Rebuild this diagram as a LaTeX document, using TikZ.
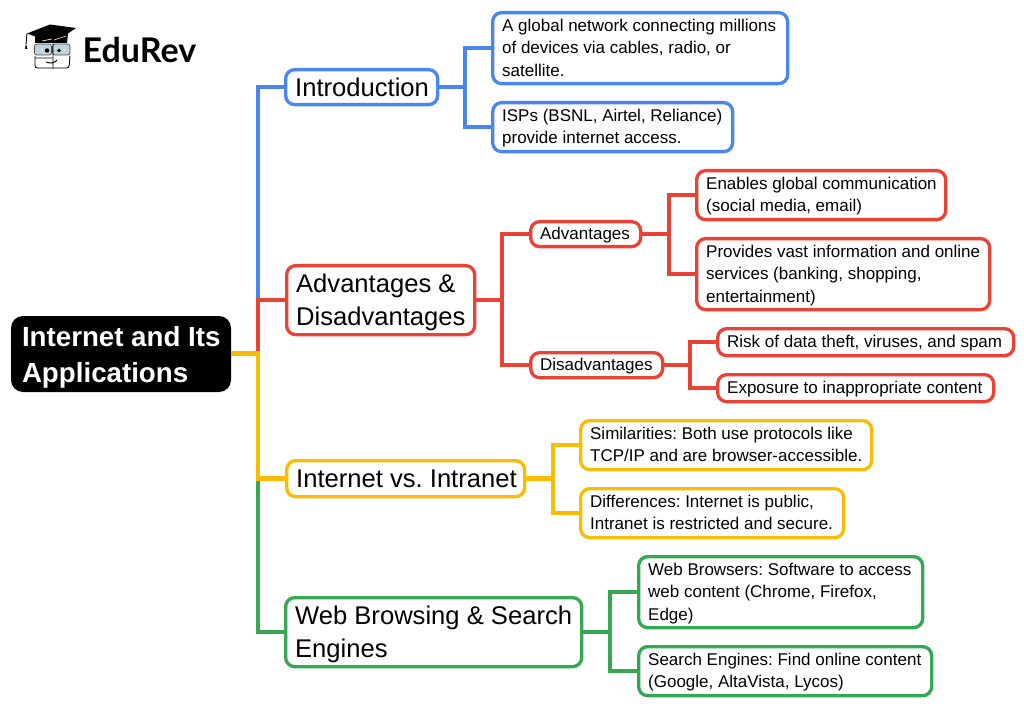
\documentclass[tikz,border=0pt]{standalone}
\usepackage{fontspec}
\setmainfont{Liberation Sans}
\newfontfamily\logofont{Lato}
\frenchspacing
\definecolor{cblue}{HTML}{4A86F0}
\definecolor{cred}{HTML}{EA4335}
\definecolor{cyel}{HTML}{FBBC04}
\definecolor{cgrn}{HTML}{34A853}
\definecolor{glass}{HTML}{BFD3DC}
\tikzset{
  box/.style={fill=white,line width=3.3pt,rounded corners=9pt,inner sep=0pt,anchor=north west,text=black},
  big/.style={box,font=\fontsize{25.6}{33}\selectfont\def\txtdrop{2.5pt}},
  small/.style={box,font=\fontsize{17}{22.3}\selectfont\def\txtdrop{1.2pt}},
  link/.style={line width=4.4pt},
}
% \bx{style}{name}{x0}{y0}{x1}{y1}{text}
\newcommand{\bx}[7]{\pgfmathsetlengthmacro{\bw}{#5-#3-3}\pgfmathsetlengthmacro{\bh}{#6-#4-3}%
  \node[#1,minimum height=\bh] (#2) at (#3,#4) {\makebox[\bw][l]{\hspace{9.5pt}\raisebox{-\txtdrop}[\height][\depth]{\begin{tabular}{@{}l@{}}#7\end{tabular}}}};}
\begin{document}
\begin{tikzpicture}[x=1pt,y=-1pt]
\useasboundingbox (0,0) rectangle (1024,708);
\fill[white] (0,0) rectangle (1024,708);
% logo
\fill (27,33.5) -- (50,24.5) -- (76,28) -- (68,33.5) -- (67,43) -- (35,43) -- (35,36.5) -- cycle;
\draw[line width=0.9pt] (27,33.5) -- (26,44);
\fill (26,43.5) -- (27.5,49) -- (25,49) -- cycle;
\draw[white,line width=0.6pt] (54,40) -- (66,36) (42,41) -- (52,39);
\draw[black!70,fill=glass,line width=0.7pt,rounded corners=2.5pt] (34.5,44) rectangle (51.5,55);
\draw[black!70,fill=glass,line width=0.7pt,rounded corners=2.5pt] (52.5,44) rectangle (70,55);
\fill (47,50.5) circle (2.2pt) (59,50.5) circle (1.8pt);
\fill[white] (42,50) circle (1.2pt) (64,50) circle (1.2pt);
\draw[black,line width=0.9pt,rounded corners=2.5pt] (35,56) -- (35,68) -- (69,68) -- (70,56);
\draw[black,line width=0.9pt] (35,58) -- (52,58) (53,42) -- (53,69) (46,62) .. controls (50,64) and (55,63) .. (57,60);
\node[font=\logofont\bfseries\fontsize{34}{34}\selectfont,anchor=base west,inner sep=0pt] (logo) at (82.5,62.5) {EduRev};
% junctions
\coordinate (jroot) at (258,353.5);
\coordinate (jadv) at (258,300);
\coordinate (jint) at (258,479);
\coordinate (j1) at (465,87);
\coordinate (j2) at (502,300);
\coordinate (j3) at (669,234);
\coordinate (j4) at (690,365);
\coordinate (j5) at (553,478.5);
\coordinate (j6) at (610,632);
% boxes
\node[fill=black,rounded corners=12pt,minimum height=76pt,inner sep=0pt,outer sep=0pt,anchor=north west,text=white,font=\bfseries\fontsize{27.7}{36.5}\selectfont] (root) at (11,316) {\makebox[220pt][l]{\hspace{11pt}\raisebox{-3pt}[\height][\depth]{\begin{tabular}{@{}l@{}}Internet and Its\\Applications\end{tabular}}}};
\bx{big,draw=cblue}{intro}{284}{68}{439}{106}{Introduction}
\bx{small,draw=cblue}{i1}{491}{11}{789}{85}{A global network connecting millions\\of devices via cables, radio, or\\satellite.}
\bx{small,draw=cblue}{i2}{491}{101}{734}{153}{ISPs (BSNL, Airtel, Reliance)\\provide internet access.}
\bx{big,draw=cred}{ad}{285}{264}{476}{336}{Advantages \&\\Disadvantages}
\bx{small,draw=cred}{adv}{529}{220}{642}{248}{Advantages}
\bx{small,draw=cred}{dis}{529}{351}{664}{379}{Disadvantages}
\bx{small,draw=cred}{a1}{695}{169}{947}{221}{Enables global communication\\(social media, email)}
\bx{small,draw=cred}{a2}{695}{237}{991}{311}{Provides vast information and online\\services (banking, shopping,\\entertainment)}
\bx{small,draw=cred}{d1}{716}{327}{1015}{357}{Risk of data theft, viruses, and spam}
\bx{small,draw=cred}{d2}{716}{373}{995}{403}{Exposure to inappropriate content}
\bx{big,draw=cyel}{vs}{285}{459}{526}{498}{Internet vs. Intranet}
\bx{small,draw=cyel}{v1}{579}{419}{873}{471}{Similarities: Both use protocols like\\TCP/IP and are browser-accessible.}
\bx{small,draw=cyel}{v2}{579}{487}{845}{539}{Differences: Internet is public,\\Intranet is restricted and secure.}
\bx{big,draw=cgrn}{web}{284}{596}{583}{668}{Web Browsing \& Search\\Engines}
\bx{small,draw=cgrn}{w1}{637}{555}{924}{629}{Web Browsers: Software to access\\web content (Chrome, Firefox,\\Edge)}
\bx{small,draw=cgrn}{w2}{637}{645}{933}{697}{Search Engines: Find online content\\(Google, AltaVista, Lycos)}
% connectors
\draw[link,cblue] (jadv) |- (intro.west);
\draw[link,cblue] (intro.east) -- (intro.east -| j1);
\draw[link,cblue] (j1) |- (i1.west);
\draw[link,cblue] (j1) |- (i2.west);
\draw[link,cgrn] (jint) |- (web.west);
\draw[link,cred] (jroot) -- (jadv) -- (ad.west |- jadv);
\draw[link,cred] (ad.east |- j2) -- (j2);
\draw[link,cred] (j2) |- (adv.west);
\draw[link,cred] (j2) |- (dis.west);
\draw[link,cred] (adv.east) -| (j3);
\draw[link,cred] (j3) |- (a1.west);
\draw[link,cred] (j3) |- (a2.west);
\draw[link,cred] (dis.east) -- (dis.east -| j4);
\draw[link,cred] (j4) |- (d1.west);
\draw[link,cred] (j4) |- (d2.west);
\draw[link,cyel] (root.east |- jroot) -- (jroot) |- (vs.west);
\draw[link,cyel] (vs.east) -- (vs.east -| j5);
\draw[link,cyel] (j5) |- (v1.west);
\draw[link,cyel] (j5) |- (v2.west);
\draw[link,cgrn] (web.east |- j6) -- (j6);
\draw[link,cgrn] (j6) |- (w1.west);
\draw[link,cgrn] (j6) |- (w2.west);
\end{tikzpicture}
\end{document}
